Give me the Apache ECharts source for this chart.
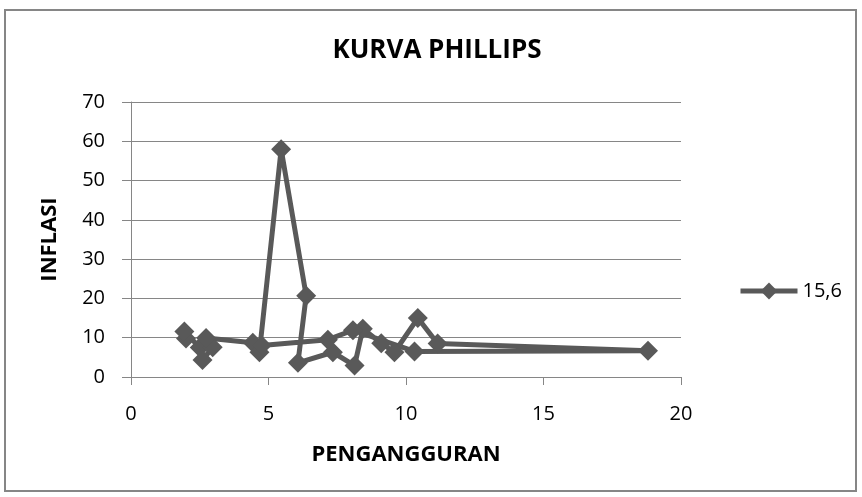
<!DOCTYPE html>
<html>
<head>
<meta charset="utf-8">
<script src="https://cdn.jsdelivr.net/npm/echarts@6/dist/echarts.min.js"></script>
<style>
  html, body { margin: 0; padding: 0; background: #fff; }
  #container { width: 862px; height: 497px; }
</style>
</head>
<body>
<div id="container"></div>
<script>
// pengangguran (x) dan inflasi (y), urut seperti garis di gambar
var pengangguran = [2.0, 1.94, 2.5, 2.6, 2.97, 2.73, 4.43, 4.67, 5.46, 6.37, 6.07, 7.34, 8.13, 8.43, 9.1, 9.58, 10.43, 11.15, 18.8, 10.31, 8.07, 7.16, 4.75];
var inflasi      = [9.8, 11.6, 7.5, 4.3, 7.6, 9.9, 8.7, 6.3, 58.0, 20.7, 3.6, 6.3, 2.9, 12.3, 8.6, 6.3, 15.0, 8.5, 6.7, 6.5, 11.9, 9.5, 8.0];
var seriesName = '15,6';
var xTicks = [0, 5, 10, 15, 20];
var yTicks = [0, 10, 20, 30, 40, 50, 60, 70];

var dom = document.getElementById("container");
var myChart = echarts.init(dom);

var data = [];
for (var i = 0; i < pengangguran.length; i++) {
    data.push([pengangguran[i], inflasi[i]]);
}

var grey = '#595959';
var axisGrey = '#868686';
var font = '"Open Sans", sans-serif';

var option = {
    animation: false,
    backgroundColor: '#fff',
    title: {
        text: 'KURVA PHILLIPS',
        left: 432,
        top: 33,
        textAlign: 'center',
        textStyle: { fontFamily: font, fontSize: 26, fontWeight: 'bold', color: '#000' }
    },
    legend: {
        left: 733,
        top: 276,
        itemWidth: 57,
        itemHeight: 21,
        itemGap: 4,
        lineStyle: { width: 5, color: grey },
        textStyle: { fontFamily: font, fontSize: 20, color: '#000' },
        data: [seriesName]
    },
    grid: { left: 131, top: 102, width: 550, height: 275 },
    xAxis: {
        type: 'value',
        min: xTicks[0],
        max: xTicks[xTicks.length - 1],
        interval: 5,
        name: 'PENGANGGURAN',
        nameLocation: 'middle',
        nameGap: 67,
        nameTextStyle: { fontFamily: font, fontSize: 22, fontWeight: 'bold', color: '#000' },
        axisLine: { show: true, lineStyle: { color: axisGrey, width: 1 } },
        axisTick: { show: true, length: 8, lineStyle: { color: axisGrey } },
        axisLabel: { fontFamily: font, fontSize: 20, color: '#000', margin: 27 },
        splitLine: { show: false }
    },
    yAxis: {
        type: 'value',
        min: yTicks[0],
        max: yTicks[yTicks.length - 1],
        interval: 10,
        name: 'INFLASI',
        nameLocation: 'middle',
        nameGap: 70,
        nameRotate: 90,
        nameTextStyle: { fontFamily: font, fontSize: 22, fontWeight: 'bold', color: '#000' },
        axisLine: { show: true, lineStyle: { color: axisGrey, width: 1 } },
        axisTick: { show: true, length: 9, lineStyle: { color: axisGrey } },
        axisLabel: { fontFamily: font, fontSize: 20, color: '#000', margin: 26 },
        splitLine: { show: true, lineStyle: { color: axisGrey, width: 1 } }
    },
    series: [{
        name: seriesName,
        type: 'line',
        data: data,
        symbol: 'diamond',
        symbolSize: 20,
        showSymbol: true,
        color: grey,
        lineStyle: { color: grey, width: 5 },
        itemStyle: { color: grey }
    }],
    graphic: [{
        type: 'rect',
        shape: { x: 5, y: 10, width: 851, height: 481 },
        style: { fill: 'none', stroke: '#868686', lineWidth: 2 },
        z: -1
    }]
};

myChart.setOption(option, true);
</script>
</body>
</html>
